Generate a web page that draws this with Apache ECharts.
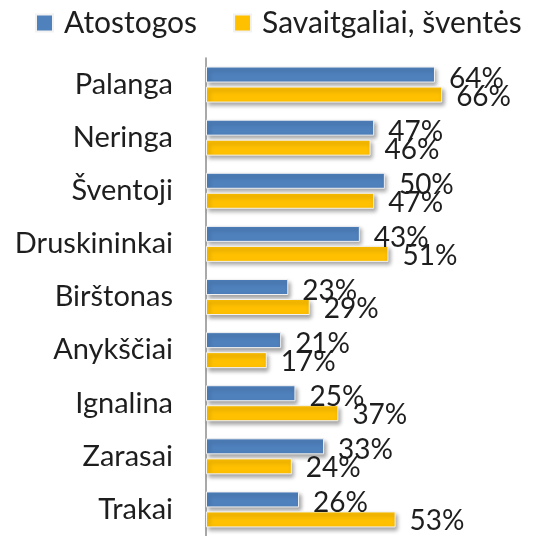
<!DOCTYPE html>
<html>
<head>
<meta charset="UTF-8">
<title></title>
<script src="https://cdn.jsdelivr.net/npm/echarts@6/dist/echarts.min.js"></script>
<style>
  html, body { margin: 0; padding: 0; background: #fff; }
  #chart { width: 551px; height: 536px; }
</style>
</head>
<body>
<div id="chart"></div>
<script>
// duomenys
var miestai = ['Palanga', 'Neringa', 'Šventoji', 'Druskininkai', 'Birštonas', 'Anykščiai', 'Ignalina', 'Zarasai', 'Trakai'];
var atostogos = [64, 47, 50, 43, 23, 21, 25, 33, 26];
var savaitgaliai = [66, 46, 47, 51, 29, 17, 37, 24, 53];
var serijos = ['Atostogos', 'Savaitgaliai, šventės'];

var font = 'Lato, "Noto Sans", sans-serif';
var textColor = '#1e1e1e';

function barSeries(name, data, color, dy) {
    return {
        name: name,
        type: 'bar',
        data: data,
        barWidth: 16,
        barGap: '25%',
        itemStyle: {
            color: color,
            borderColor: '#f2f2f2',
            borderWidth: 1,
            shadowColor: 'rgba(0,0,0,0.35)',
            shadowBlur: 4,
            shadowOffsetX: 2,
            shadowOffsetY: 3
        },
        label: {
            show: true,
            position: 'right',
            distance: 14,
            offset: [0, dy],
            formatter: '{c}%',
            fontFamily: font,
            fontSize: 28,
            color: textColor
        }
    };
}

var myChart = echarts.init(document.getElementById('chart'));
myChart.setOption({
    animation: false,
    legend: {
        data: serijos,
        top: 8,
        left: 35,
        padding: 0,
        icon: 'rect',
        itemWidth: 17,
        itemHeight: 17,
        itemGap: 36,
        textStyle: {
            fontFamily: font,
            fontSize: 30,
            color: textColor,
            padding: [0, 0, 0, 6]
        }
    },
    grid: {
        left: 206,
        top: 58,
        width: 322,
        height: 482
    },
    xAxis: {
        type: 'value',
        min: 0,
        max: 90,
        show: false
    },
    yAxis: {
        type: 'category',
        data: miestai,
        inverse: true,
        axisLine: { show: true, lineStyle: { color: '#8c8c8c', width: 1.5 } },
        axisTick: { show: false },
        axisLabel: {
            margin: 33,
            fontFamily: font,
            fontSize: 29,
            color: textColor
        }
    },
    series: [
        barSeries(serijos[0], atostogos, '#4f81bd', 4),
        barSeries(serijos[1], savaitgaliai, '#ffc000', 2)
    ]
});
</script>
</body>
</html>
